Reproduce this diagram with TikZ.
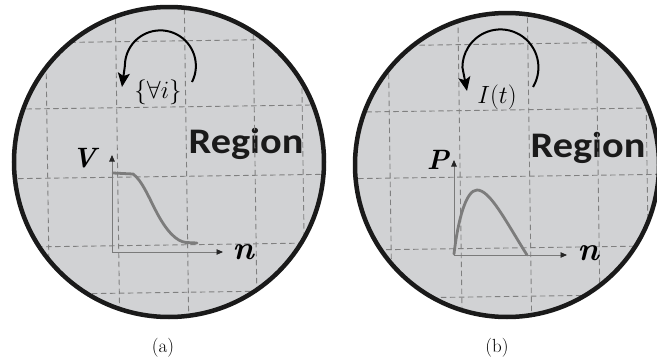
\documentclass[tikz,border=0pt]{standalone}
\usepackage{amsmath}
\usepackage{fontspec}
\newfontfamily\regionfont{Carlito}
\usetikzlibrary{arrows.meta}
\definecolor{diskfill}{HTML}{D1D2D4}
\definecolor{rimblack}{HTML}{1A1A1A}
\definecolor{gridgray}{HTML}{808080}
\definecolor{axisgray}{HTML}{7A7A7A}
\definecolor{curvegray}{HTML}{7C7C7C}
\tikzset{
  disk/.style={fill=diskfill},
  rim/.style={draw=rimblack,line width=4.5pt},
  gridline/.style={draw=gridgray,line width=0.9pt,dash pattern=on 5.5pt off 3.5pt},
  axisline/.style={draw=axisgray,line width=0.9pt,-{Triangle[length=6.5pt,width=5.5pt,color=black!85]}},
  curveline/.style={draw=curvegray,line width=2.8pt,line cap=round},
  spinarrow/.style={draw=black,line width=2pt,-{Stealth[length=14pt,width=12pt,inset=3pt]}},
  regionlabel/.style={font=\regionfont\bfseries\fontsize{36}{36}\selectfont,text=rimblack,inner sep=0pt,anchor=base},
  mathlabel/.style={inner sep=0pt,font=\fontsize{24}{24}\selectfont},
  varlabel/.style={inner sep=0pt,font=\bfseries\itshape\fontsize{28}{28}\selectfont},
  nlabel/.style={inner sep=0pt,font=\bfseries\itshape\fontsize{33}{33}\selectfont},
  caption/.style={font=\fontsize{19}{19}\selectfont,inner sep=0pt,anchor=base}
}
\begin{document}
\begin{tikzpicture}[x=1pt,y=-1pt]
\useasboundingbox (0,0) rectangle (657,359);

% ---------- (a) ----------
\coordinate (ca) at (169,162);
\fill[disk] (ca) circle[radius=155pt];
\node[regionlabel] (rega) at (246,153) {\scalebox{1.12}[1]{Region}};
\begin{scope}
  \clip (ca) circle[radius=157pt];
  \begin{scope}[rotate around={0.8:(ca)}]
    \foreach \xx in {47.5,117.5,186.5,255,303} \draw[gridline] (\xx,0) -- (\xx,330);
    \foreach \yy in {41,107,176.5,245,292.5} \draw[gridline] (0,\yy) -- (330,\yy);
  \end{scope}
\end{scope}
\coordinate (oa) at (112,252);
\coordinate (ya) at (112,155);
\coordinate (xa) at (223,252);
\draw[axisline] (oa) -- (ya);
\draw[axisline] (oa) -- (xa);
\draw[curveline] (113,173) -- (133,174) .. controls (142,180) and (150,200) .. (157,213)
   .. controls (166,230) and (176,241.5) .. (186,242.5) -- (197,243);
\node[varlabel] (va) at (84,158) {V};
\node[nlabel] (na) at (243,252) {n};
\coordinate (sa) at (192,82);
\coordinate (ta) at (122,87);
\draw[spinarrow] (sa) arc[start angle=-27,end angle=180,radius=35.5pt] -- (ta);
\node[mathlabel] (fa) at (158,92) {$\{\forall i\}$};
\draw[rim] (ca) circle[radius=155pt];
\node[caption] (capa) at (163,352) {(a)};

% ---------- (b) ----------
\coordinate (cb) at (507,165);
\fill[disk] (cb) circle[radius=152pt];
\node[regionlabel] (regb) at (588,157) {\scalebox{1.12}[1]{Region}};
\begin{scope}
  \clip (cb) circle[radius=154pt];
  \begin{scope}[rotate around={0.8:(cb)}]
    \foreach \xx in {390,460,529.5,598,647} \draw[gridline] (\xx,0) -- (\xx,330);
    \foreach \yy in {44,110,176.5,248,296.5} \draw[gridline] (340,\yy) -- (670,\yy);
  \end{scope}
\end{scope}
\coordinate (ob) at (454,255);
\coordinate (yb) at (454,160);
\coordinate (xb) at (567,255);
\draw[axisline] (ob) -- (yb);
\draw[axisline] (ob) -- (xb);
\draw[curveline] (454,254) .. controls (458,220) and (466,190) .. (477,190)
   .. controls (490,190) and (505,220) .. (527,255);
\node[varlabel] (pb) at (438,160) {P};
\node[nlabel] (nb) at (588,253) {n};
\coordinate (sb) at (533,87);
\coordinate (tb) at (467,91);
\draw[spinarrow] (sb) arc[start angle=-31,end angle=180,radius=38pt] -- (tb);
\node[mathlabel] (ib) at (497,97) {$I(t)$};
\draw[rim] (cb) circle[radius=152pt];
\node[caption] (capb) at (497,352) {(b)};
\end{tikzpicture}
\end{document}
